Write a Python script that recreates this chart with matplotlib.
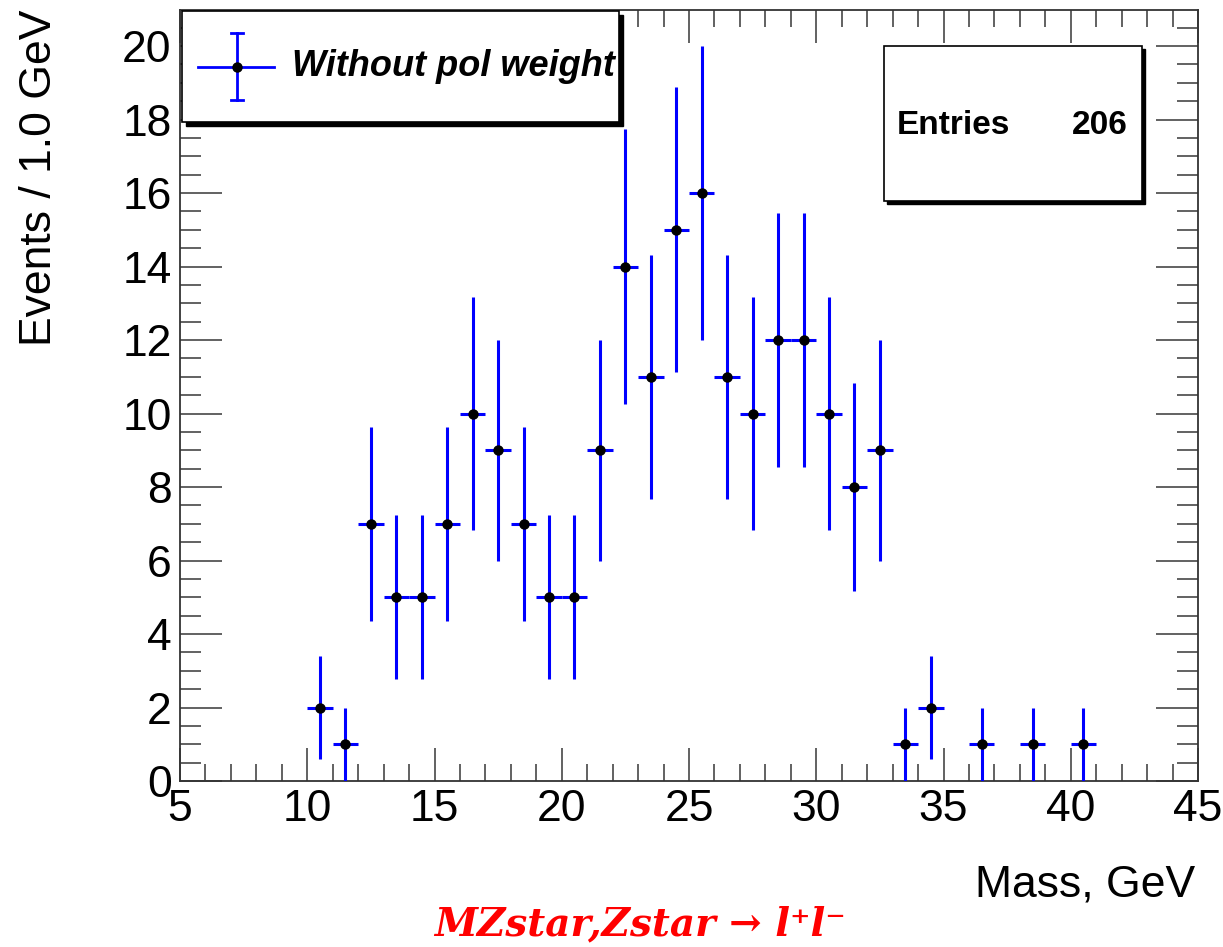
import numpy as np
import matplotlib
matplotlib.use("Agg")
import matplotlib.pyplot as plt
from matplotlib.ticker import MultipleLocator
from matplotlib.patches import Rectangle

bin_centers = [10.5, 11.5, 12.5, 13.5, 14.5, 15.5, 16.5, 17.5, 18.5, 19.5, 20.5,
               21.5, 22.5, 23.5, 24.5, 25.5, 26.5, 27.5, 28.5, 29.5, 30.5, 31.5,
               32.5, 33.5, 34.5, 36.5, 38.5, 40.5]
counts = [2, 1, 7, 5, 5, 7, 10, 9, 7, 5, 5,
          9, 14, 11, 15, 16, 11, 10, 12, 12, 10, 8,
          9, 1, 2, 1, 1, 1]
bin_width = 1.0
legend_label = "Without pol weight"
entries = 206

plt.rcParams['font.family'] = ['Liberation Sans', 'DejaVu Sans']

W, H = 1223, 947
fig = plt.figure(figsize=(W / 100, H / 100), dpi=100)
ax = fig.add_axes([180 / W, 1 - 781 / H, (1198 - 180) / W, (781 - 10) / H])

x = np.array(bin_centers)
y = np.array(counts, dtype=float)
yerr = np.sqrt(y)
ax.errorbar(x, y, xerr=bin_width / 2, yerr=yerr, fmt='o', color='black',
            ms=6.5, ecolor='#0000ff', elinewidth=2.2, capsize=0, zorder=3)

ax.set_xlim(5, 45)
ax.set_ylim(0, 20.98)
ax.xaxis.set_major_locator(MultipleLocator(5))
ax.xaxis.set_minor_locator(MultipleLocator(1))
ax.yaxis.set_major_locator(MultipleLocator(2))
ax.yaxis.set_minor_locator(MultipleLocator(0.5))
ax.tick_params(which='both', direction='in', top=True, right=True, colors='#555555',
               labelcolor='black', labelsize=32, width=1.3)
ax.tick_params(axis='x', which='major', length=24, pad=6)
ax.tick_params(axis='x', which='minor', length=12)
ax.tick_params(axis='y', which='major', length=30, pad=6)
ax.tick_params(axis='y', which='minor', length=15)
for s in ax.spines.values():
    s.set_linewidth(1.3)
    s.set_color('#333333')

fig.text(40 / W, 1 - 10 / H, "Events / 1.0 GeV", rotation=90, fontsize=32,
         ha='center', va='top')
fig.text(1195 / W, 1 - 885 / H, "Mass, GeV", fontsize=32, ha='right', va='center')

fig.text(640 / W, 1 - 924 / H, "MZstar,Zstar \u2192 l\u207al\u207b", fontsize=28,
         color='red', fontstyle='italic', fontweight='bold',
         family=['DejaVu Serif'], ha='center', va='center')

# legend box with shadow
def box(x0, y0, x1, y1, sh=4):
    fig.patches.append(Rectangle((x0 / W + sh / W, 1 - (y1 + sh) / H), (x1 - x0) / W, (y1 - y0) / H,
                                 transform=fig.transFigure, facecolor='black',
                                 edgecolor='black', zorder=5))
    fig.patches.append(Rectangle((x0 / W, 1 - y1 / H), (x1 - x0) / W, (y1 - y0) / H,
                                 transform=fig.transFigure, facecolor='white',
                                 edgecolor='black', lw=1.2, zorder=6))

box(182, 11, 619, 122)
# legend symbol
lx, ly = 237, 67
fig.add_artist(plt.Line2D([198 / W, 274 / W], [1 - ly / H, 1 - ly / H], color='#0000ff', lw=2, zorder=7))
fig.add_artist(plt.Line2D([lx / W, lx / W], [1 - 33 / H, 1 - 100 / H], color='#0000ff', lw=2, zorder=7))
fig.add_artist(plt.Line2D([(lx - 6) / W, (lx + 6) / W], [1 - 33 / H, 1 - 33 / H], color='#0000ff', lw=2, zorder=7))
fig.add_artist(plt.Line2D([(lx - 6) / W, (lx + 6) / W], [1 - 100 / H, 1 - 100 / H], color='#0000ff', lw=2, zorder=7))
fig.add_artist(plt.Line2D([lx / W], [1 - ly / H], marker='o', color='black', ms=6.5, zorder=8))
fig.text(292 / W, 1 - 66 / H, legend_label, fontsize=26, fontstyle='italic',
         fontweight='bold', ha='left', va='center', zorder=8)

box(884, 46, 1142, 201, sh=3)
fig.text(897 / W, 1 - 126 / H, "Entries", fontsize=24, fontweight='bold',
         ha='left', va='center', zorder=8)
fig.text(1128 / W, 1 - 126 / H, str(entries), fontsize=24, fontweight='bold',
         ha='right', va='center', zorder=8)

fig.savefig("out.png", dpi=100)
